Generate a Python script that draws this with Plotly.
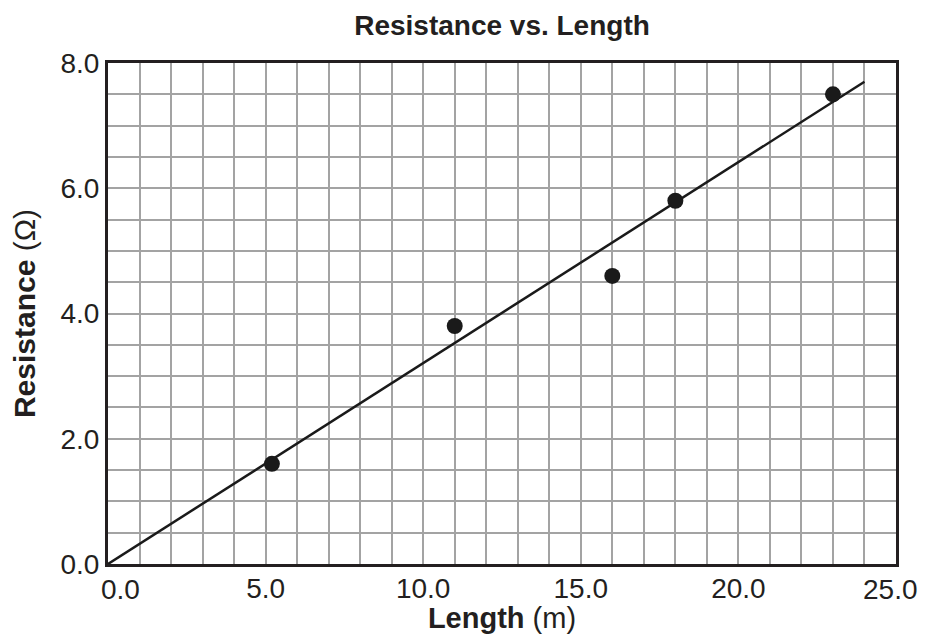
import plotly.graph_objects as go

# Data
length_m = [5.2, 11.0, 16.0, 18.0, 23.0]
resistance_ohm = [1.6, 3.8, 4.6, 5.8, 7.5]
fit_x = [0.0, 24.0]
fit_y = [0.0, 7.7]
x_ticks = [0, 5, 10, 15, 20, 25]
x_tick_labels = ["0.0", "5.0", "10.0", "15.0", "20.0", "25.0"]
y_ticks = [0, 2, 4, 6, 8]
y_tick_labels = ["0.0", "2.0", "4.0", "6.0", "8.0"]

FONT = "Liberation Sans, Arial, Helvetica, sans-serif"
GRID = "#a3a3a3"
INK = "#231f20"

fig = go.Figure()
fig.add_trace(go.Scatter(x=fit_x, y=fit_y, mode="lines",
                         line=dict(color="#1a1a1a", width=2.5),
                         showlegend=False, hoverinfo="skip"))
fig.add_trace(go.Scatter(x=length_m, y=resistance_ohm, mode="markers",
                         marker=dict(color="#1a1a1a", size=16),
                         showlegend=False))

# End x tick labels are nudged inward (as in the reference) so they stay clear
shown_x_text = [""] + x_tick_labels[1:-1] + [""]
for val, txt, shift in [(x_ticks[0], x_tick_labels[0], 12),
                        (x_ticks[-1], x_tick_labels[-1], -6)]:
    fig.add_annotation(x=val, y=0, xref="x", yref="paper",
                       text=txt, showarrow=False,
                       xanchor="center", yanchor="top", xshift=shift, yshift=-8,
                       font=dict(size=28, family=FONT, color=INK))

fig.update_layout(
    width=919, height=626,
    margin=dict(l=100, r=31, t=55, b=70, autoexpand=False),
    paper_bgcolor="white", plot_bgcolor="white",
    font=dict(family=FONT, color=INK),
    title=dict(text="<b>Resistance vs. Length</b>", x=0.5, xref="paper",
               xanchor="center", y=0.973, yref="container", yanchor="middle",
               font=dict(size=28, family=FONT, color=INK)),
)
fig.update_xaxes(
    range=[0, 25], tickvals=x_ticks, ticktext=shown_x_text,
    tickfont=dict(size=28), showline=True, linecolor=INK, linewidth=3,
    mirror=True, showgrid=True, gridcolor=GRID, gridwidth=2,
    minor=dict(dtick=1, showgrid=True, gridcolor=GRID, gridwidth=2),
    zeroline=False, ticks="", ticklabelstandoff=-3, automargin=False,
    title=dict(text="<b>Length</b> (m)", font=dict(size=29)),
)
fig.update_yaxes(
    range=[0, 8], tickvals=y_ticks, ticktext=y_tick_labels,
    tickfont=dict(size=28), showline=True, linecolor=INK, linewidth=3,
    mirror=True, showgrid=True, gridcolor=GRID, gridwidth=2,
    minor=dict(dtick=0.5, showgrid=True, gridcolor=GRID, gridwidth=2),
    zeroline=False, ticks="", ticklabelstandoff=0, automargin=False,
    title=dict(text="<b>Resistance</b> (Ω)", font=dict(size=30), standoff=16),
)

fig.write_html("out.html")
